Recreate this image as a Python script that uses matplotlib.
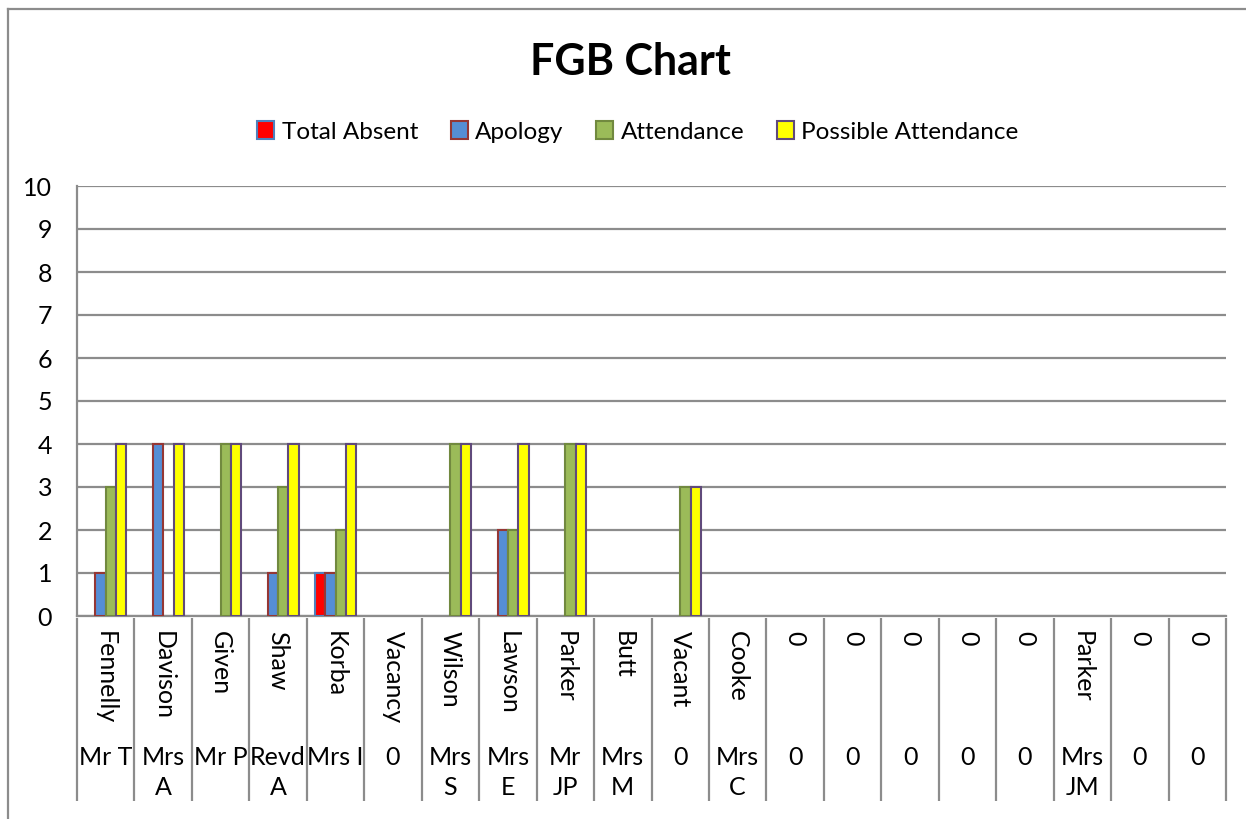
import matplotlib.pyplot as plt
import numpy as np
from matplotlib.lines import Line2D
from matplotlib.patches import Rectangle

plt.rcParams['font.family'] = ['Lato', 'DejaVu Sans']

surnames = ['Fennelly', 'Davison', 'Given', 'Shaw', 'Korba', 'Vacancy', 'Wilson',
            'Lawson', 'Parker', 'Butt', 'Vacant', 'Cooke', '0', '0', '0', '0', '0',
            'Parker', '0', '0']
titles = ['Mr T', 'Mrs\nA', 'Mr P', 'Revd\nA', 'Mrs I', '0', 'Mrs\nS', 'Mrs\nE',
          'Mr\nJP', 'Mrs\nM', '0', 'Mrs\nC', '0', '0', '0', '0', '0', 'Mrs\nJM', '0', '0']

total_absent = [0, 0, 0, 0, 1, 0, 0, 0, 0, 0, 0, 0, 0, 0, 0, 0, 0, 0, 0, 0]
apology = [1, 4, 0, 1, 1, 0, 0, 2, 0, 0, 0, 0, 0, 0, 0, 0, 0, 0, 0, 0]
attendance = [3, 0, 4, 3, 2, 0, 4, 2, 4, 0, 3, 0, 0, 0, 0, 0, 0, 0, 0, 0]
possible = [4, 4, 4, 4, 4, 0, 4, 4, 4, 0, 3, 0, 0, 0, 0, 0, 0, 0, 0, 0]

series = [
    ('Total Absent', total_absent, '#ff0000', '#4f81bd'),
    ('Apology', apology, '#558ed5', '#953735'),
    ('Attendance', attendance, '#9bbb59', '#71893f'),
    ('Possible Attendance', possible, '#ffff00', '#604a7b'),
]

grid_c = '#8c8c8c'

fig = plt.figure(figsize=(12.46, 8.19), dpi=100)
ax = fig.add_axes([77 / 1246, 203 / 819, 1149 / 1246, 430 / 819])

x = np.arange(len(surnames))
w = 0.18
handles = []
for i, (name, vals, fc, ec) in enumerate(series):
    vals = np.array(vals)
    edges = [ec if v > 0 else 'none' for v in vals]
    ax.bar(x + (i - 1.5) * w, vals, width=w, color=fc, edgecolor=edges,
           linewidth=1.5, zorder=3)
    handles.append(Rectangle((0, 0), 1, 1, facecolor=fc, edgecolor=ec, linewidth=1.5))

ax.set_xlim(-0.5, len(surnames) - 0.5)
ax.set_ylim(0, 10)
ax.set_yticks(range(0, 11))
ax.tick_params(axis='y', length=0, pad=18, labelsize=18)
ax.set_xticks([])
ax.yaxis.grid(True, color=grid_c, linewidth=1.6, zorder=0)
ax.set_axisbelow(True)
for s in ['top', 'right']:
    ax.spines[s].set_visible(False)
for s in ['left', 'bottom']:
    ax.spines[s].set_color(grid_c)
    ax.spines[s].set_linewidth(1.6)

# multi-level category axis
trans = ax.get_xaxis_transform()
ax.vlines(np.arange(-0.5, len(surnames)), -0.43, -0.005, color=grid_c,
          linewidth=1.6, transform=trans, clip_on=False)
for i in range(len(surnames)):
    ax.text(i, -0.035, surnames[i], rotation=-90, ha='center', va='top',
            fontsize=18, transform=trans)
    ax.text(i, -0.302, titles[i], ha='center', va='top', fontsize=18,
            linespacing=1.35, transform=trans)

fig.text(0.506, (819 - 62) / 819, 'FGB Chart', ha='center', va='center',
         fontsize=31, fontweight='bold')
fig.legend(handles, [s[0] for s in series], loc='center', ncol=4,
           bbox_to_anchor=(0.512, (819 - 132) / 819), frameon=False, fontsize=17.5,
           handlelength=0.7, handleheight=0.7, handletextpad=0.3,
           columnspacing=1.35)

# chart frame
fig.add_artist(Line2D([8 / 1246, 1], [1 - 9 / 819, 1 - 9 / 819], color=grid_c, linewidth=1.6))
fig.add_artist(Line2D([8 / 1246, 8 / 1246], [0, 1 - 9 / 819], color=grid_c, linewidth=1.6))

fig.savefig('out.png', dpi=100)
